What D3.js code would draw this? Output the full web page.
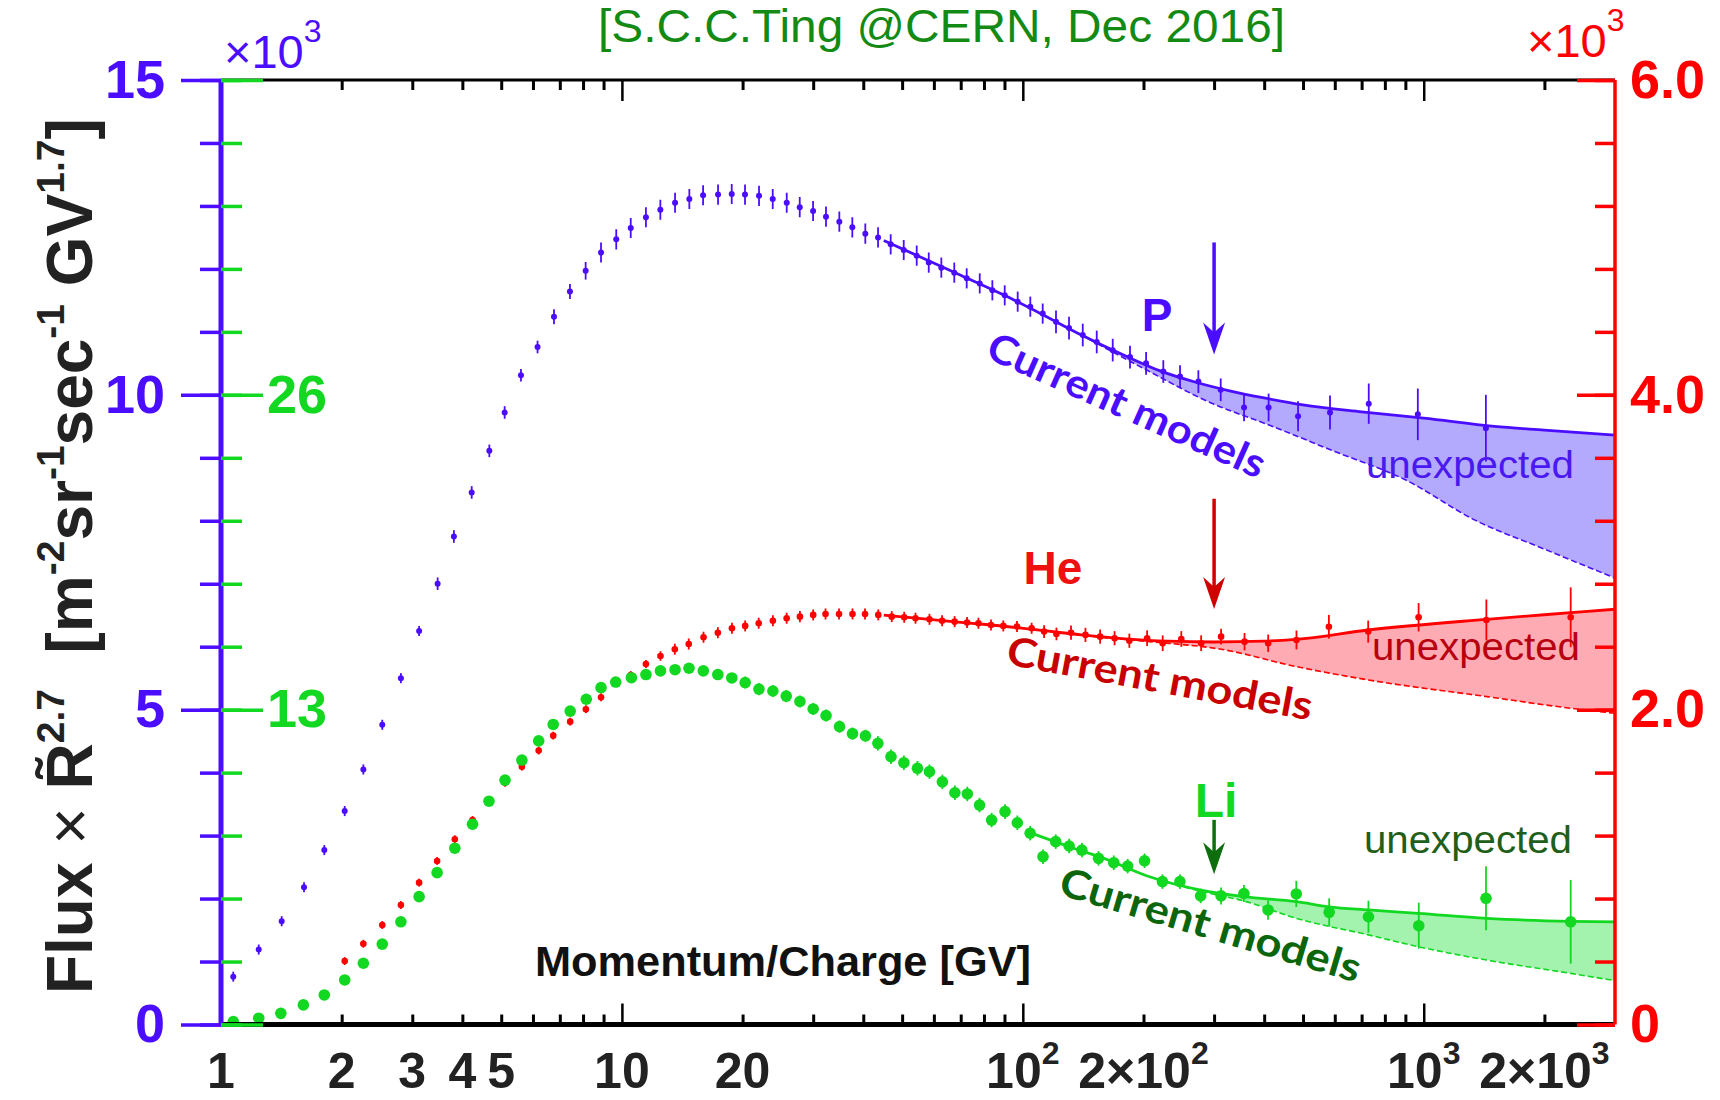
<!DOCTYPE html>
<html>
<head>
<meta charset="utf-8">
<script src="https://cdn.jsdelivr.net/npm/d3@7"></script>
<style>
  body { margin: 0; background: #fff; }
  svg { display: block; font-family: 'Liberation Sans', Arial, sans-serif; }
</style>
</head>
<body>
<div class="graphic"></div>
<script>
// proton, x10^3 (left axis)
const rigP = [1.073, 1.242, 1.417, 1.611, 1.81, 2.035, 2.265, 2.525, 2.81, 3.12,
  3.47, 3.81, 4.22, 4.67, 5.1, 5.6, 6.16, 6.77, 7.42, 8.12,
  8.87, 9.68, 10.52, 11.48, 12.47, 13.57, 14.73, 15.94, 17.37, 18.79,
  20.28, 21.98, 23.78, 25.77, 27.77, 29.98, 32.29, 34.86, 37.56, 40.47,
  43.54, 46.82, 50.46, 54.37, 58.26, 62.62, 67.46, 72.45, 78.08, 83.95,
  90.13, 97.1, 104.4, 112.1, 121, 130.4, 141.1, 152.9, 167.6, 185.1,
  203, 224.1, 246.7, 274.1, 311.6, 356.3, 410.3, 485.9, 583.8, 729.3,
  966.7, 1429];
const fluxP = [0.76, 1.19, 1.64, 2.18, 2.77, 3.39, 4.05, 4.76, 5.5, 6.25,
  7.0, 7.75, 8.45, 9.11, 9.72, 10.31, 10.76, 11.24, 11.64, 11.97,
  12.26, 12.47, 12.65, 12.82, 12.94, 13.05, 13.11, 13.17, 13.18, 13.19,
  13.18, 13.16, 13.11, 13.05, 12.98, 12.92, 12.83, 12.75, 12.66, 12.56,
  12.5, 12.39, 12.3, 12.21, 12.1, 12.02, 11.94, 11.85, 11.77, 11.66,
  11.58, 11.48, 11.4, 11.29, 11.16, 11.06, 10.95, 10.84, 10.71, 10.6,
  10.5, 10.37, 10.29, 10.21, 10.08, 9.8, 9.8, 9.66, 9.72, 9.86,
  9.69, 9.47];
const errP = [0.08, 0.08, 0.08, 0.08, 0.08, 0.08, 0.08, 0.08, 0.08, 0.08,
  0.1, 0.1, 0.1, 0.1, 0.1, 0.1, 0.1, 0.12, 0.12, 0.14,
  0.16, 0.16, 0.16, 0.16, 0.16, 0.16, 0.16, 0.16, 0.16, 0.16,
  0.16, 0.16, 0.16, 0.16, 0.16, 0.16, 0.16, 0.16, 0.16, 0.16,
  0.16, 0.16, 0.16, 0.16, 0.16, 0.16, 0.16, 0.16, 0.16, 0.16,
  0.16, 0.16, 0.16, 0.16, 0.18, 0.18, 0.18, 0.18, 0.18, 0.18,
  0.18, 0.18, 0.18, 0.18, 0.18, 0.22, 0.22, 0.24, 0.27, 0.32,
  0.41, 0.53];
const fitRigP = [45, 55, 70, 90, 110, 140, 180, 220, 270, 330, 400, 500, 700, 1000, 1500, 2000, 3000];
const fitP = [12.45, 12.2, 11.9, 11.58, 11.3, 10.95, 10.62, 10.38, 10.2, 10.06, 9.95, 9.84, 9.73, 9.63, 9.5, 9.44, 9.36];
const modelRigP = [140, 200, 300, 400, 600, 900, 1343, 2000, 3000];
const modelP = [10.95, 10.42, 9.85, 9.55, 9.1, 8.65, 8.01, 7.55, 7.09];

// helium, x10^3 (right axis)
const rigHe = [2.035, 2.265, 2.525, 2.81, 3.12, 3.46, 3.83, 4.24, 4.66, 5.11,
  5.63, 6.2, 6.74, 7.43, 8.13, 8.87, 9.71, 10.52, 11.48, 12.48,
  13.55, 14.68, 15.98, 17.35, 18.81, 20.3, 21.94, 23.8, 25.76, 27.8,
  30, 32.2, 34.8, 37.6, 40.4, 43.6, 47.1, 50.6, 54, 58.5,
  62.9, 67.6, 72.6, 77.5, 83.3, 89.4, 96.7, 105.2, 113, 121.3,
  131.9, 143.3, 155.9, 169.4, 184.4, 204.2, 223.3, 248.5, 278.5, 312.3,
  357.3, 409.3, 481.5, 580, 727, 971, 1433, 2326];
const fluxHe = [0.403, 0.513, 0.632, 0.759, 0.901, 1.039, 1.177, 1.299, 1.426, 1.536,
  1.638, 1.74, 1.835, 1.924, 2.003, 2.079, 2.168, 2.22, 2.29, 2.341,
  2.384, 2.417, 2.46, 2.489, 2.517, 2.532, 2.549, 2.565, 2.581, 2.591,
  2.602, 2.608, 2.608, 2.608, 2.608, 2.602, 2.591, 2.587, 2.581, 2.574,
  2.565, 2.559, 2.553, 2.549, 2.538, 2.532, 2.528, 2.517, 2.496, 2.481,
  2.489, 2.475, 2.464, 2.454, 2.438, 2.454, 2.422, 2.449, 2.422, 2.464,
  2.432, 2.422, 2.443, 2.527, 2.496, 2.587, 2.57, 2.587];
const errHe = [0.025, 0.025, 0.025, 0.025, 0.025, 0.025, 0.025, 0.025, 0.025, 0.025,
  0.025, 0.025, 0.025, 0.025, 0.025, 0.025, 0.025, 0.025, 0.025, 0.03,
  0.035, 0.035, 0.035, 0.035, 0.035, 0.035, 0.035, 0.035, 0.035, 0.035,
  0.035, 0.035, 0.035, 0.035, 0.035, 0.035, 0.035, 0.035, 0.035, 0.035,
  0.035, 0.035, 0.035, 0.035, 0.035, 0.035, 0.035, 0.035, 0.04, 0.04,
  0.045, 0.045, 0.045, 0.045, 0.045, 0.05, 0.05, 0.05, 0.05, 0.05,
  0.055, 0.055, 0.06, 0.075, 0.07, 0.09, 0.13, 0.19];
const fitRigHe = [45, 55, 70, 90, 110, 140, 180, 230, 300, 400, 480, 727, 1436, 2326, 3000];
const fitHe = [2.6, 2.58, 2.555, 2.53, 2.505, 2.475, 2.45, 2.435, 2.43, 2.435, 2.447, 2.506, 2.574, 2.616, 2.638];
const modelRigHe = [110, 150, 207, 312, 482, 727, 1436, 2326, 3000];
const modelHe = [2.505, 2.465, 2.432, 2.384, 2.273, 2.189, 2.083, 2.009, 1.977];

// lithium (green inner scale)
const rigLi = [1.073, 1.242, 1.41, 1.605, 1.81, 2.035, 2.265, 2.525, 2.81, 3.12,
  3.46, 3.83, 4.24, 4.66, 5.11, 5.63, 6.2, 6.74, 7.43, 8.15,
  8.87, 9.65, 10.56, 11.48, 12.48, 13.57, 14.7, 15.96, 17.35, 18.8,
  20.3, 21.97, 23.8, 25.7, 27.8, 30, 32.3, 34.9, 37.6, 40.5,
  43.5, 46.9, 50.5, 54.6, 58.5, 63, 67.7, 72.7, 78, 83.6,
  90.3, 96.9, 104.3, 112.3, 120.8, 130.5, 140.4, 154.5, 168.6, 182.6,
  201.2, 223, 246.5, 277.7, 312.3, 356, 409, 481, 581, 728,
  972, 1430, 2326];
const fluxLi = [0.12, 0.26, 0.46, 0.81, 1.22, 1.84, 2.53, 3.32, 4.24, 5.28,
  6.27, 7.28, 8.27, 9.22, 10.09, 10.92, 11.71, 12.39, 12.94, 13.43,
  13.91, 14.14, 14.32, 14.45, 14.6, 14.65, 14.71, 14.6, 14.45, 14.31,
  14.12, 13.85, 13.77, 13.56, 13.34, 13.03, 12.76, 12.3, 12.01, 11.92,
  11.61, 11.06, 10.81, 10.58, 10.44, 10.02, 9.57, 9.52, 9.06, 8.44,
  8.79, 8.33, 7.9, 6.93, 7.55, 7.37, 7.2, 6.86, 6.68, 6.54,
  6.76, 5.9, 5.9, 5.31, 5.31, 5.41, 4.73, 5.39, 4.63, 4.45,
  4.08, 5.21, 4.24];
const errLi = [0.1, 0.1, 0.1, 0.1, 0.1, 0.1, 0.1, 0.1, 0.1, 0.1,
  0.1, 0.1, 0.1, 0.1, 0.1, 0.1, 0.1, 0.1, 0.1, 0.1,
  0.15, 0.15, 0.15, 0.15, 0.15, 0.15, 0.15, 0.2, 0.2, 0.2,
  0.25, 0.25, 0.25, 0.25, 0.25, 0.25, 0.25, 0.25, 0.25, 0.25,
  0.3, 0.3, 0.3, 0.3, 0.3, 0.3, 0.3, 0.3, 0.3, 0.3,
  0.3, 0.3, 0.3, 0.3, 0.3, 0.3, 0.3, 0.3, 0.3, 0.3,
  0.3, 0.3, 0.3, 0.3, 0.35, 0.35, 0.4, 0.54, 0.58, 0.66,
  0.95, 1.32, 1.73];
const fitRigLi = [105, 130, 160, 207, 278, 356, 482, 580, 728, 970, 1436, 2326, 3000];
const fitLi = [7.9, 7.35, 6.85, 6.1, 5.55, 5.28, 5.07, 4.86, 4.73, 4.59, 4.38, 4.26, 4.24];
const modelRigLi = [207, 278, 356, 482, 728, 971, 1436, 2326, 3000];
const modelLi = [6.1, 5.5, 5.1, 4.38, 3.7, 3.21, 2.66, 2.11, 1.81];

// axis ticks and labels
const xTickVals = [1, 2, 3, 4, 5, 10, 20, 100, 200, 1000, 2000];
const xTickBase = ['1', '2', '3', '4', '5', '10', '20', '10', '2×10', '10', '2×10'];
const xTickExp = ['', '', '', '', '', '', '', '2', '2', '3', '3'];
const xMinor = [2, 3, 4, 5, 6, 7, 8, 9, 20, 30, 40, 50, 60, 70, 80, 90,
  200, 300, 400, 500, 600, 700, 800, 900, 2000];
const xMajor = [10, 100, 1000];
const pMajor = [0, 5, 10, 15];
const heMajor = [0, 2, 4, 6];
const liMajor = [0, 13, 26, 39];

const BLUE = '#4b0dff';
const RED = '#ff0000';
const GREEN = '#12d822';
const DKGREEN = '#0b650b';
const DKRED = '#c80000';

const W = 1720, H = 1100;
const pLeft = 221, pRight = 1615, pTop = 80, pBottom = 1024.5;

const svg = d3.select('.graphic').append('svg').attr('width', W).attr('height', H);

const x = d3.scaleLog().domain([1, 3000]).range([pLeft, pRight]);
const yP = d3.scaleLinear().domain([0, 15]).range([pBottom, pTop]);
const yHe = d3.scaleLinear().domain([0, 6]).range([pBottom, pTop]);
const yLi = d3.scaleLinear().domain([0, 39]).range([pBottom, pTop]);

svg.append('clipPath').attr('id', 'plotclip')
  .append('rect').attr('x', pLeft).attr('y', pTop)
  .attr('width', pRight - pLeft).attr('height', pBottom - pTop);

const plot = svg.append('g').attr('clip-path', 'url(#plotclip)');

const series = [
  { rig: rigP, flux: fluxP, err: errP, fr: fitRigP, fv: fitP, mr: modelRigP, mv: modelP,
    y: yP, color: BLUE, fill: '#b3a9fd', r: 3, bar: 1.8 },
  { rig: rigHe, flux: fluxHe, err: errHe, fr: fitRigHe, fv: fitHe, mr: modelRigHe, mv: modelHe,
    y: yHe, color: RED, fill: '#ffabb3', r: 3.3, bar: 1.8 },
  { rig: rigLi, flux: fluxLi, err: errLi, fr: fitRigLi, fv: fitLi, mr: modelRigLi, mv: modelLi,
    y: yLi, color: GREEN, fill: '#a3f2ad', r: 5.8, bar: 1.8 }
];

const curve = d3.line().curve(d3.curveMonotoneX);

// shaded "unexpected" bands
series.forEach(s => {
  const upper = s.fr.map((r, i) => [x(r), s.y(s.fv[i])]).filter(p => p[0] >= x(s.mr[0]) - 0.5);
  const lower = s.mr.map((r, i) => [x(r), s.y(s.mv[i])]).reverse();
  plot.append('path')
    .attr('d', curve(upper) + 'L' + curve(lower).slice(1) + 'Z')
    .attr('fill', s.fill)
    .attr('stroke', 'none');
});

// model (dashed) and fit (solid) lines
series.forEach(s => {
  plot.append('path')
    .attr('d', curve(s.mr.map((r, i) => [x(r), s.y(s.mv[i])])))
    .attr('fill', 'none')
    .attr('stroke', s.color)
    .attr('stroke-width', 1.6)
    .attr('stroke-dasharray', '6,3');
  plot.append('path')
    .attr('d', curve(s.fr.map((r, i) => [x(r), s.y(s.fv[i])])))
    .attr('fill', 'none')
    .attr('stroke', s.color)
    .attr('stroke-width', 2.8);
});

// data points with error bars
series.forEach(s => {
  const rows = s.rig.map((r, i) => ({ r: r, v: s.flux[i], e: s.err[i] }));
  const g = plot.append('g');
  g.selectAll('line')
    .data(rows)
    .join('line')
    .attr('x1', d => x(d.r))
    .attr('x2', d => x(d.r))
    .attr('y1', d => s.y(d.v - d.e))
    .attr('y2', d => s.y(d.v + d.e))
    .attr('stroke', s.color)
    .attr('stroke-width', s.bar);
  g.selectAll('circle')
    .data(rows)
    .join('circle')
    .attr('cx', d => x(d.r))
    .attr('cy', d => s.y(d.v))
    .attr('r', s.r)
    .attr('fill', s.color);
});

// frame lines
svg.append('line').attr('x1', pLeft).attr('x2', pRight).attr('y1', pBottom).attr('y2', pBottom)
  .attr('stroke', '#000').attr('stroke-width', 5);
svg.append('line').attr('x1', pLeft).attr('x2', pRight).attr('y1', pTop).attr('y2', pTop)
  .attr('stroke', '#000').attr('stroke-width', 3);

const styleTicks = (g, color, width) => {
  g.select('.domain').remove();
  g.selectAll('.tick line').attr('stroke', color).attr('stroke-width', width);
};

// bottom and top log ticks (pointing inward)
svg.append('g').attr('transform', `translate(0,${pBottom})`)
  .call(d3.axisTop(x).tickValues(xMinor).tickSize(10).tickFormat(''))
  .call(g => styleTicks(g, '#000', 3));
svg.append('g').attr('transform', `translate(0,${pBottom})`)
  .call(d3.axisTop(x).tickValues(xMajor).tickSize(21).tickFormat(''))
  .call(g => styleTicks(g, '#000', 2.5));
svg.append('g').attr('transform', `translate(0,${pTop})`)
  .call(d3.axisBottom(x).tickValues(xMinor).tickSize(10).tickFormat(''))
  .call(g => styleTicks(g, '#000', 3));
svg.append('g').attr('transform', `translate(0,${pTop})`)
  .call(d3.axisBottom(x).tickValues(xMajor).tickSize(21).tickFormat(''))
  .call(g => styleTicks(g, '#000', 2.5));

// bottom tick labels
const xLab = svg.append('g')
  .attr('font-size', 50)
  .attr('font-weight', 'bold')
  .attr('fill', '#222');
xTickVals.forEach((v, i) => {
  const t = xLab.append('text')
    .attr('x', x(v))
    .attr('y', 1088)
    .attr('text-anchor', 'middle');
  t.append('tspan').text(xTickBase[i]);
  if (xTickExp[i]) {
    t.append('tspan').attr('dy', -24).attr('font-size', 32).text(xTickExp[i]);
  }
});

// left axis: blue (outside) and green (inside)
svg.append('line').attr('x1', pLeft).attr('x2', pLeft).attr('y1', pTop).attr('y2', pBottom)
  .attr('stroke', BLUE).attr('stroke-width', 5);
svg.append('g').attr('transform', `translate(${pLeft},0)`)
  .call(d3.axisLeft(yP).tickValues(d3.range(0, 16)).tickSize(21).tickFormat(''))
  .call(g => styleTicks(g, BLUE, 3.5));
svg.append('g').attr('transform', `translate(${pLeft},0)`)
  .call(d3.axisLeft(yP).tickValues(pMajor).tickSize(40).tickPadding(16).tickFormat(d3.format('d')))
  .call(g => styleTicks(g, BLUE, 3.5))
  .call(g => g.selectAll('text').attr('fill', BLUE).attr('font-size', 54)
    .attr('font-weight', 'bold').attr('font-family', 'Liberation Sans, Arial, sans-serif'));
svg.append('g').attr('transform', `translate(${pLeft},0)`)
  .call(d3.axisRight(yLi).tickValues(d3.range(0, 16).map(i => i * 2.6)).tickSize(21).tickFormat(''))
  .call(g => styleTicks(g, GREEN, 3.5));
svg.append('g').attr('transform', `translate(${pLeft},0)`)
  .call(d3.axisRight(yLi).tickValues(liMajor).tickSize(42).tickPadding(4)
    .tickFormat(d => (d === 13 || d === 26 ? d : '')))
  .call(g => styleTicks(g, GREEN, 3.5))
  .call(g => g.selectAll('text').attr('fill', GREEN).attr('font-size', 54)
    .attr('font-weight', 'bold').attr('font-family', 'Liberation Sans, Arial, sans-serif'));

// right axis: helium scale
svg.append('line').attr('x1', pRight).attr('x2', pRight).attr('y1', pTop).attr('y2', pBottom)
  .attr('stroke', RED).attr('stroke-width', 3.5);
svg.append('g').attr('transform', `translate(${pRight},0)`)
  .call(d3.axisLeft(yHe).tickValues(d3.range(0, 16).map(i => i * 0.4)).tickSize(20).tickFormat(''))
  .call(g => styleTicks(g, RED, 3.5));
svg.append('g').attr('transform', `translate(${pRight},0)`)
  .call(d3.axisLeft(yHe).tickValues(heMajor).tickSize(38).tickFormat(''))
  .call(g => styleTicks(g, RED, 3.5));
svg.append('g').attr('transform', `translate(${pRight},0)`)
  .call(d3.axisRight(yHe).tickValues(heMajor).tickSize(0).tickPadding(15)
    .tickFormat(d => (d === 0 ? '0' : d.toFixed(1))))
  .call(g => styleTicks(g, RED, 0))
  .call(g => g.selectAll('text').attr('fill', RED).attr('font-size', 54)
    .attr('font-weight', 'bold').attr('font-family', 'Liberation Sans, Arial, sans-serif'));

// multiplier labels
const mult = (xx, yy, color) => {
  const t = svg.append('text').attr('x', xx).attr('y', yy)
    .attr('font-size', 47).attr('fill', color);
  t.append('tspan').text('×10');
  t.append('tspan').attr('dy', -26).attr('font-size', 32).text('3');
};
mult(224, 68, BLUE);
mult(1527, 57, RED);

// title
svg.append('text')
  .attr('x', 598).attr('y', 42)
  .attr('font-size', 46)
  .attr('fill', '#138a13')
  .attr('textLength', 687)
  .attr('lengthAdjust', 'spacingAndGlyphs')
  .text('[S.C.C.Ting @CERN, Dec 2016]');

// x title
svg.append('text')
  .attr('x', 535).attr('y', 976)
  .attr('font-size', 43)
  .attr('font-weight', 'bold')
  .attr('fill', '#111')
  .attr('textLength', 496)
  .attr('lengthAdjust', 'spacingAndGlyphs')
  .text('Momentum/Charge [GV]');

// y title
const yTitle = svg.append('text')
  .attr('transform', 'translate(92,994) rotate(-90)')
  .attr('font-size', 64)
  .attr('font-weight', 'bold')
  .attr('fill', '#222')
  .style('white-space', 'pre');
const yParts = [
  ['Flux ', 0], ['×', 0], [' R\u0303', 0], ['2.7', 1], ['  [m', 0], ['-2', 1], ['sr', 0],
  ['-1', 1], ['sec', 0], ['-1', 1], [' GV', 0], ['1.7', 1], [']', 0]
];
let raised = false;
yParts.forEach(p => {
  const ts = yTitle.append('tspan').text(p[0]);
  if (p[1] && !raised) { ts.attr('dy', -28).attr('font-size', 39); raised = true; }
  else if (p[1]) { ts.attr('font-size', 39); }
  else if (raised) { ts.attr('dy', 28); raised = false; }
  if (p[0] === '×') ts.attr('font-weight', 'normal');
});

// arrows
const arrowR = 300;
const arrow = (y1, y2, color) => {
  const ax = x(arrowR);
  svg.append('line').attr('x1', ax).attr('x2', ax).attr('y1', y1).attr('y2', y2 - 10)
    .attr('stroke', color).attr('stroke-width', 3.5);
  svg.append('path')
    .attr('d', `M${ax},${y2} L${ax - 11},${y2 - 32} L${ax},${y2 - 22} L${ax + 11},${y2 - 32} Z`)
    .attr('fill', color);
};
arrow(yP(12.42), yP(10.64), BLUE);
arrow(yHe(3.34), yHe(2.64), '#d00000');
arrow(yLi(8.45), yLi(6.2), '#0e6e0e');

// element labels
const label = (xx, yy, txt, color, size, weight) => svg.append('text')
  .attr('x', xx).attr('y', yy).attr('text-anchor', 'middle')
  .attr('font-size', size).attr('font-weight', weight).attr('fill', color).text(txt);
label(1157, 331, 'P', BLUE, 46, 'bold');
label(1053, 584, 'He', '#ee1111', 46, 'bold');
label(1216, 817, 'Li', GREEN, 48, 'bold');

// "Current models" tags
const tag = (xx, yy, ang, color, len) => svg.append('text')
  .attr('transform', `translate(${xx},${yy}) rotate(${ang})`)
  .attr('font-family', 'Lato, "Open Sans", sans-serif')
  .attr('font-size', 40)
  .attr('font-weight', 'bold')
  .attr('fill', color)
  .attr('textLength', len)
  .attr('lengthAdjust', 'spacingAndGlyphs')
  .text('Current models');
tag(984, 357, 24, BLUE, 300);
tag(1005, 664, 10.5, DKRED, 310);
tag(1057, 894, 16.5, DKGREEN, 312);

// "unexpected" tags
const unexp = (xx, yy, color) => svg.append('text')
  .attr('x', xx).attr('y', yy)
  .attr('font-size', 38)
  .attr('fill', color)
  .attr('textLength', 208)
  .attr('lengthAdjust', 'spacingAndGlyphs')
  .text('unexpected');
unexp(1366, 478, '#4a18f0');
unexp(1372, 660, '#b80010');
unexp(1364, 853, '#1f5f1a');
</script>
</body>
</html>
